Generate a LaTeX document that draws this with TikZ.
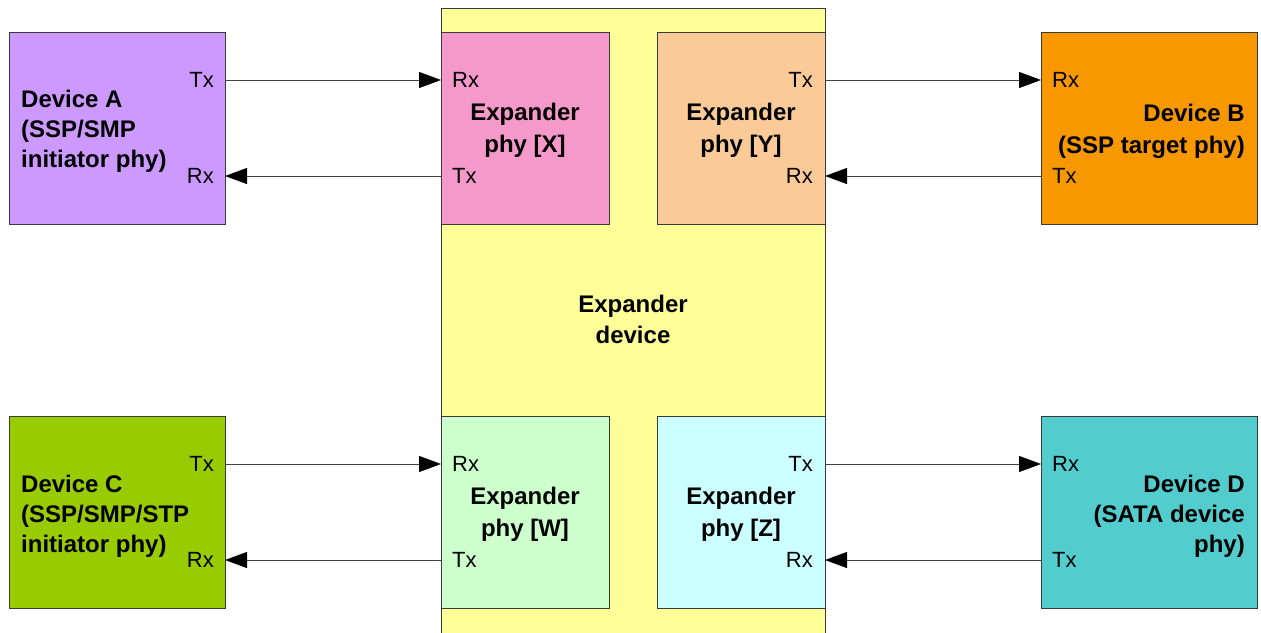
\documentclass[tikz,border=0pt]{standalone}
\usepackage{fontspec}
\setmainfont{Liberation Sans}
\usetikzlibrary{arrows.meta}
\definecolor{cA}{HTML}{CC99FF}
\definecolor{cB}{HTML}{F79800}
\definecolor{cC}{HTML}{99CC00}
\definecolor{cD}{HTML}{52CCCC}
\definecolor{cX}{HTML}{F598CA}
\definecolor{cY}{HTML}{FACB98}
\definecolor{cW}{HTML}{CCFFCC}
\definecolor{cZ}{HTML}{CCFFFF}
\definecolor{cE}{HTML}{FFFF99}
\definecolor{edge}{HTML}{3A3A3A}
\definecolor{wire}{HTML}{404040}
\begin{document}
\begin{tikzpicture}[x=1pt,y=-1pt,
  box/.style={draw=edge, line width=0.9pt, rectangle, anchor=north west, inner sep=0pt, outer sep=0pt},
  devbox/.style={box, minimum width=216pt, minimum height=192pt},
  phybox/.style={box, minimum width=168pt, minimum height=192pt},
  port/.style={inner sep=0pt, font=\fontsize{22}{22}\selectfont},
  ttl/.style={inner sep=0pt, font=\fontsize{24}{24}\selectfont\bfseries},
  conn/.style={draw=wire, line width=1pt, -{Triangle[length=22pt,width=16pt,color=black,fill=black]}}
]
\useasboundingbox (0,0) rectangle (1261,632);
\fill[white] (0,0) rectangle (1261,632);

% expander device
\node[box, fill=cE, minimum width=384pt, minimum height=640pt] (E) at (441,8) {};
\node[ttl, anchor=base] (E1) at (633,312) {Expander};
\node[ttl, anchor=base] (E2) at (633,343) {device};

% boxes
\node[devbox, fill=cA] (A) at (9,32) {};
\node[phybox, fill=cX] (X) at (441,32) {};
\node[phybox, fill=cY] (Y) at (657,32) {};
\node[devbox, fill=cB] (B) at (1041,32) {};
\node[devbox, fill=cC] (C) at (9,416) {};
\node[phybox, fill=cW] (W) at (441,416) {};
\node[phybox, fill=cZ] (Z) at (657,416) {};
\node[devbox, fill=cD] (D) at (1041,416) {};

% Device A
\node[ttl, anchor=base west] (A1) at (21,107) {Device A};
\node[ttl, anchor=base west] (A2) at (21,137) {(SSP/SMP};
\node[ttl, anchor=base west] (A3) at (21,167) {initiator phy)};
\node[port, anchor=base east] (Atx) at (214,87) {Tx};
\node[port, anchor=base east] (Arx) at (214,183) {Rx};

% Phy X
\node[port, anchor=base west] (Xrx) at (452,87) {Rx};
\node[ttl, anchor=base] (X1) at (525,120) {Expander};
\node[ttl, anchor=base] (X2) at (525,152) {phy [X]};
\node[port, anchor=base west] (Xtx) at (452,183) {Tx};

% Phy Y
\node[port, anchor=base east] (Ytx) at (813,87) {Tx};
\node[ttl, anchor=base] (Y1) at (741,120) {Expander};
\node[ttl, anchor=base] (Y2) at (741,152) {phy [Y]};
\node[port, anchor=base east] (Yrx) at (813,183) {Rx};

% Device B
\node[port, anchor=base west] (Brx) at (1052,87) {Rx};
\node[ttl, anchor=base east] (B1) at (1245,121) {Device B};
\node[ttl, anchor=base east] (B2) at (1245,153) {(SSP target phy)};
\node[port, anchor=base west] (Btx) at (1052,183) {Tx};

% Device C
\node[ttl, anchor=base west] (C1) at (21,492) {Device C};
\node[ttl, anchor=base west] (C2) at (21,522) {(SSP/SMP/STP};
\node[ttl, anchor=base west] (C3) at (21,552) {initiator phy)};
\node[port, anchor=base east] (Ctx) at (214,471) {Tx};
\node[port, anchor=base east] (Crx) at (214,567) {Rx};

% Phy W
\node[port, anchor=base west] (Wrx) at (452,471) {Rx};
\node[ttl, anchor=base] (W1) at (525,504) {Expander};
\node[ttl, anchor=base] (W2) at (525,536) {phy [W]};
\node[port, anchor=base west] (Wtx) at (452,567) {Tx};

% Phy Z
\node[port, anchor=base east] (Ztx) at (813,471) {Tx};
\node[ttl, anchor=base] (Z1) at (741,504) {Expander};
\node[ttl, anchor=base] (Z2) at (741,536) {phy [Z]};
\node[port, anchor=base east] (Zrx) at (813,567) {Rx};

% Device D
\node[port, anchor=base west] (Drx) at (1052,471) {Rx};
\node[ttl, anchor=base east] (D1) at (1245,492) {Device D};
\node[ttl, anchor=base east] (D2) at (1245,522) {(SATA device};
\node[ttl, anchor=base east] (D3) at (1245,552) {phy)};
\node[port, anchor=base west] (Dtx) at (1052,567) {Tx};

% connectors
\draw[conn] ([yshift=-48pt]A.north east) -- ([yshift=-48pt]X.north west);
\draw[conn] ([yshift=-144pt]X.north west) -- ([yshift=-144pt]A.north east);
\draw[conn] ([yshift=-48pt]Y.north east) -- ([yshift=-48pt]B.north west);
\draw[conn] ([yshift=-144pt]B.north west) -- ([yshift=-144pt]Y.north east);
\draw[conn] ([yshift=-48pt]C.north east) -- ([yshift=-48pt]W.north west);
\draw[conn] ([yshift=-144pt]W.north west) -- ([yshift=-144pt]C.north east);
\draw[conn] ([yshift=-48pt]Z.north east) -- ([yshift=-48pt]D.north west);
\draw[conn] ([yshift=-144pt]D.north west) -- ([yshift=-144pt]Z.north east);
\end{tikzpicture}
\end{document}
